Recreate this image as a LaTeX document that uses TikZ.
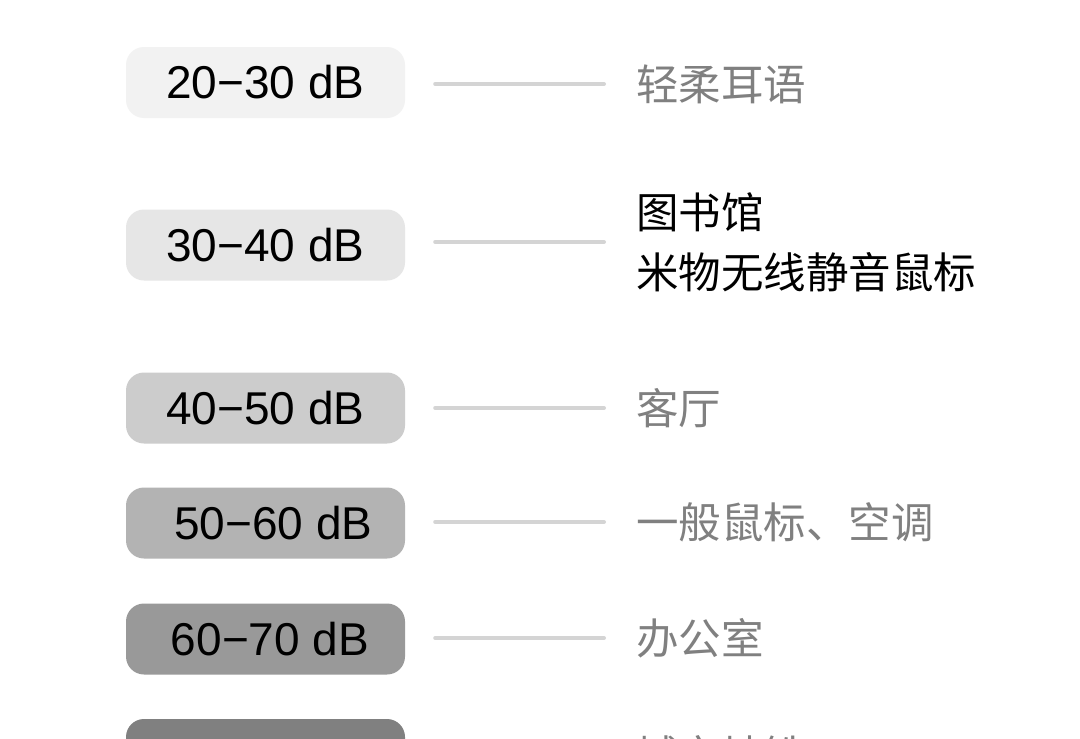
\documentclass[tikz,border=0pt]{standalone}
\usepackage{fontspec}
\setmainfont{Liberation Sans}
\newfontfamily\cjk{Noto Sans CJK SC}
\definecolor{shadeA}{HTML}{F2F2F2}
\definecolor{shadeB}{HTML}{E6E6E6}
\definecolor{shadeC}{HTML}{CCCCCC}
\definecolor{shadeD}{HTML}{B3B3B3}
\definecolor{shadeE}{HTML}{999999}
\definecolor{shadeF}{HTML}{808080}
\definecolor{linegray}{HTML}{D4D4D4}
\definecolor{placegray}{HTML}{808080}
\tikzset{
  levelbox/.style={rounded corners=18pt, minimum width=279pt, minimum height=71pt,
    inner sep=0pt, font=\fontsize{46}{55}\selectfont},
  place/.style={anchor=west, inner sep=0pt, align=left, text=placegray,
    font=\cjk\fontsize{42.5}{60}\selectfont},
  link/.style={draw=linegray, line width=4pt, line cap=round,
    shorten <=30pt, shorten >=32pt}
}
\begin{document}
\begin{tikzpicture}[x=1pt,y=1pt]
\useasboundingbox (0,0) rectangle (1080,-739);
\fill[white] (0,0) rectangle (1080,-739);
\clip (0,0) rectangle (1080,-739);
% level boxes
\node[levelbox,fill=shadeA](b1) at (265.5,-82.5){20−30 dB};
\node[levelbox,fill=shadeB](b2) at (265.5,-245){30−40 dB};
\node[levelbox,fill=shadeC](b3) at (265.5,-408){40−50 dB};
\node[levelbox,fill=shadeD](b4) at (265.5,-523){\hspace*{16pt}50−60 dB};
\node[levelbox,fill=shadeE](b5) at (265.5,-639){\hspace*{9pt}60−70 dB};
\node[levelbox,fill=shadeF](b6) at (265.5,-754.5){\raisebox{-20pt}[0pt][0pt]{70−80 dB}};
% examples
\node[place](l1) at (636,-84){轻柔耳语};
\node[place,text=black](l2) at (636,-242){图书馆\\米物无线静音鼠标};
\node[place](l3) at (636,-408){客厅};
\node[place](l4) at (636,-522){一般鼠标、空调};
\node[place](l5) at (636,-638){办公室};
\node[place](l6) at (636,-755){城市地铁};
% links
\draw[link](b1.east |- l1.west)--(l1.west);
\draw[link](b2.east |- l2.west)--(l2.west);
\draw[link](b3.east |- l3.west)--(l3.west);
\draw[link](b4.east |- l4.west)--(l4.west);
\draw[link](b5.east |- l5.west)--(l5.west);
\end{tikzpicture}
\end{document}
